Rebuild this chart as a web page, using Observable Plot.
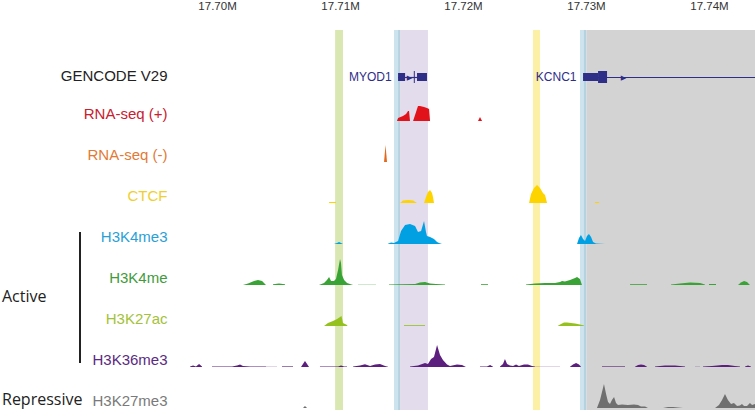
<!DOCTYPE html>
<html><head><meta charset="utf-8">
<script src="https://cdn.jsdelivr.net/npm/d3@7"></script>
<script src="https://cdn.jsdelivr.net/npm/@observablehq/plot@0.6"></script>
<style>
body{margin:0;background:#fff;}
#wrap{position:relative;width:755px;height:410px;font-family:"Liberation Sans",Arial,sans-serif;}
#wrap svg{position:absolute;left:0;top:0;}
.side{position:absolute;left:2px;font-family:"Open Sans",sans-serif;font-size:16px;color:#222;line-height:20px;white-space:nowrap;}
#bracket{position:absolute;left:79px;top:232px;width:1.5px;height:131px;background:#222;}
</style></head><body><div id="wrap"></div>
<script>
// ---- axis (positions in kb) ----
const tickValues = [17700, 17710, 17720, 17730, 17740];
const tickLabels = ["17.70M", "17.71M", "17.72M", "17.73M", "17.74M"];
const xDomain = [17697.64, 17743.74];

// ---- tracks ----
const tracks = ["GENCODE V29", "RNA-seq (+)", "RNA-seq (-)", "CTCF", "H3K4me3", "H3K4me", "H3K27ac", "H3K36me3", "H3K27me3"];

// ---- highlight bands ----
const bandStart = [17709.60, 17714.39, 17714.72, 17714.88, 17725.69, 17729.51, 17729.80, 17730.04];
const bandEnd   = [17710.24, 17714.72, 17714.88, 17717.15, 17726.26, 17729.80, 17730.04, 17743.74];
const bandKind  = ["green", "blue", "blueEdge", "purple", "yellow", "blue", "blueEdge", "gray"];

// ---- genes ----
const geneNames = ["MYOD1", "KCNC1"];
const geneStarts = [17714.72, 17729.76];
const geneEnds = [17717.07, 17743.74];
const geneArrows = [17715.60, 17733.01];
const exonGene = ["MYOD1", "MYOD1", "MYOD1", "KCNC1", "KCNC1"];
const exonStarts = [17714.72, 17716.00, 17716.26, 17729.76, 17730.98];
const exonEnds = [17715.29, 17716.08, 17717.07, 17730.98, 17731.71];
const exonKind = ["exon", "tall", "exon", "exon", "tall"];

// ---- signals: segments of [position kb, signal] ----
const rnaPlus = [
  [[17714.63,0],[17714.72,3],[17715.12,5],[17715.37,7],[17715.53,10],[17715.61,10],[17715.69,0]],
  [[17715.94,0],[17716.10,6],[17716.26,12],[17716.34,15],[17716.50,15],[17716.83,14],[17717.07,13],[17717.24,12],[17717.32,0]],
  [[17721.22,0],[17721.38,4],[17721.55,0]]
];
const rnaMinus = [
  [[17713.58,0],[17713.70,17],[17713.82,0]]
];
const ctcf = [
  [[17709.11,1],[17709.67,1]],
  [[17714.88,0],[17715.12,2.5],[17715.53,3],[17715.94,2.5],[17716.26,0]],
  [[17716.83,0],[17716.99,6],[17717.15,11],[17717.32,13],[17717.48,10],[17717.56,6],[17717.64,0]],
  [[17725.37,0],[17725.53,9],[17725.77,15],[17726.02,18],[17726.26,15],[17726.50,10],[17726.67,8],[17726.83,0]],
  [[17730.73,1],[17731.06,1]]
];
const h3k4me3 = [
  [[17709.51,0],[17709.76,1],[17709.92,2],[17710.08,1],[17710.24,0]],
  [[17713.90,0.3],[17714.15,1.5],[17714.39,1],[17714.55,2],[17714.72,3],[17714.96,13],[17715.29,19],[17715.69,20],[17716.10,18],[17716.34,12],[17716.59,13],[17716.83,23],[17716.99,12],[17717.07,8],[17717.32,7],[17717.64,5],[17717.89,2],[17718.05,1],[17718.29,0]],
  [[17729.27,0],[17729.43,6],[17729.59,9],[17729.76,5],[17729.92,3],[17730.08,8],[17730.24,10],[17730.41,7],[17730.57,2],[17730.81,0.5],[17731.55,0]]
];
const h3k4me = [
  [[17702.11,0],[17702.52,1.5],[17703.01,4],[17703.33,5],[17703.66,4],[17703.98,0]],
  [[17704.55,0.8],[17705.04,1.5],[17705.53,0.8]],
  [[17708.29,0],[17708.70,2],[17708.94,5],[17709.11,8],[17709.27,4],[17709.51,4],[17709.67,6],[17709.84,15],[17710.00,26],[17710.08,22],[17710.16,10],[17710.33,5],[17710.57,2],[17710.81,1],[17711.06,0]],
  [[17713.98,0.6],[17714.88,0.8],[17716.10,1],[17716.50,2.5],[17716.91,3],[17717.32,1.5],[17717.80,1],[17718.54,0.6]],
  [[17721.46,0.8],[17722.03,0.8]],
  [[17725.12,0.5],[17725.85,1.5],[17726.67,2],[17727.48,2],[17727.89,3],[17728.05,4],[17728.29,3.5],[17728.70,5],[17729.11,7],[17729.27,8],[17729.51,6],[17729.67,0]],
  [[17733.58,0.8],[17734.96,0.8]],
  [[17736.91,0.5],[17737.64,1.5],[17738.46,2.5],[17739.27,2],[17739.67,0.5]],
  [[17740.00,1],[17740.57,1]],
  [[17742.36,0],[17742.60,2.5],[17742.85,4],[17743.09,3],[17743.33,0]]
];
const h3k4meFaint = [
  [[17711.46,0.8],[17712.93,0.8]]
];
const h3k27ac = [
  [[17708.70,0],[17709.02,3],[17709.43,5],[17709.76,7],[17710.00,9],[17710.12,10],[17710.24,3],[17710.57,1],[17710.60,0]],
  [[17715.20,0.8],[17716.91,0.8]],
  [[17727.72,0.3],[17727.97,2],[17728.21,3.5],[17728.46,3.5],[17728.78,3],[17729.11,2.5],[17729.51,1.5],[17729.84,0.5]]
];
const h3k36me3 = [
  [[17697.81,0.5],[17698.05,1.5],[17698.29,0.5],[17698.54,3],[17698.78,0.5]],
  [[17699.59,0.6],[17701.22,0.6],[17701.63,1.5],[17701.87,2.5],[17702.11,1],[17702.68,0.6],[17703.98,0.6]],
  [[17705.28,0.6],[17706.18,0.6]],
  [[17706.83,0],[17706.99,3],[17707.15,6],[17707.32,3],[17707.48,0]],
  [[17708.37,0.6],[17709.84,0.6],[17710.08,1.5],[17710.33,0.6],[17710.57,0.6]],
  [[17711.06,0.5],[17711.63,1.5],[17712.03,2.7],[17712.44,1],[17712.85,2.5],[17713.25,3],[17713.66,1],[17713.90,0.3]],
  [[17715.69,0.5],[17716.34,1.5],[17716.91,4],[17717.15,3],[17717.40,8],[17717.64,10],[17717.89,22],[17718.13,12],[17718.37,7],[17718.70,2.5],[17718.94,1],[17719.51,2.5],[17719.92,2],[17720.24,0]],
  [[17721.38,0.5],[17721.95,0.6],[17722.20,2],[17722.44,0.3]],
  [[17723.01,0.5],[17723.25,3],[17723.41,8],[17723.58,3],[17723.82,1.5],[17724.07,1],[17724.31,2.5],[17724.55,1],[17724.96,2.5],[17725.28,2.5],[17725.61,1],[17725.85,0.6]],
  [[17728.70,0.3],[17728.94,2.5],[17729.19,4],[17729.43,2.5],[17729.59,0.3]],
  [[17731.30,0.6],[17733.17,0.6]],
  [[17733.98,0.3],[17734.23,2],[17734.47,2.5],[17734.72,2],[17734.96,0.3]],
  [[17735.61,0.5],[17736.42,1.5],[17737.24,1.5],[17738.05,0.5]],
  [[17739.51,0.5],[17740.24,1],[17741.06,2],[17741.54,2],[17742.11,1],[17742.52,0.5]],
  [[17742.93,0.5],[17743.17,1.5],[17743.41,0.5]]
];
const h3k36me3Faint = [
  [[17703.98,0.6],[17704.88,0.6]],
  [[17725.85,0.6],[17727.89,0.6]],
  [[17738.86,0.6],[17739.27,0.6]]
];
const h3k27me3 = [
  [[17706.99,0],[17707.15,2],[17707.32,0]],
  [[17730.89,0],[17731.14,8],[17731.30,16],[17731.46,24],[17731.63,14],[17731.79,6],[17731.95,4],[17732.11,8],[17732.28,11],[17732.44,5],[17732.60,3],[17732.93,3.5],[17733.41,3],[17733.90,3.5],[17734.23,3],[17734.47,1.5],[17734.80,1.5],[17735.04,0]],
  [[17736.26,0],[17736.67,1],[17737.07,1],[17737.48,0.5],[17737.89,0]],
  [[17740.49,0],[17740.81,3],[17741.06,8],[17741.30,14],[17741.54,8],[17741.79,4],[17742.03,5],[17742.28,2],[17742.52,2.5],[17742.68,4],[17742.85,2],[17743.09,2],[17743.33,5],[17743.50,3],[17743.74,4]]
];

// ---- styles ----
const labelColor = {
  "GENCODE V29": "#222222", "RNA-seq (+)": "#c9202f", "RNA-seq (-)": "#e27a36", "CTCF": "#f0cf2e",
  "H3K4me3": "#2a9fd6", "H3K4me": "#3f9b3d", "H3K27ac": "#a3c23a", "H3K36me3": "#5b2a82", "H3K27me3": "#7a7a7a"
};
const signalColor = {
  "RNA-seq (+)": "#e2121b", "RNA-seq (-)": "#e2681d", "CTCF": "#fdd400", "H3K4me3": "#00a0e3",
  "H3K4me": "#3aa335", "H3K27ac": "#95c11f", "H3K36me3": "#5c1f7e", "H3K27me3": "#6f6f6f"
};
const bandColor = {green: "#d9e7b2", blue: "#cde4ee", blueEdge: "#b5d2df", purple: "#e2dcec", yellow: "#fcf0a6", gray: "#d3d3d3"};
const navy = "#2e2d88";
const exonHalf = {exon: 4, tall: 6};
const geneY = 3;

// ---- tables ----
const toRows = (list) => list.flatMap(([track, segs]) =>
  segs.flatMap((s, i) => s.map(([pos, v]) => ({track, seg: track + "-" + i, pos, v}))));
const signalRows = toRows([
  ["RNA-seq (+)", rnaPlus], ["RNA-seq (-)", rnaMinus], ["CTCF", ctcf], ["H3K4me3", h3k4me3],
  ["H3K4me", h3k4me], ["H3K27ac", h3k27ac], ["H3K36me3", h3k36me3], ["H3K27me3", h3k27me3]
]);
const faintRows = toRows([["H3K4me", h3k4meFaint], ["H3K36me3", h3k36me3Faint]]);
const bands = bandStart.map((s, i) => ({start: s, end: bandEnd[i], kind: bandKind[i]}));
const genes = geneNames.map((name, i) => ({track: "GENCODE V29", name, start: geneStarts[i], end: geneEnds[i], arrow: geneArrows[i]}));
const exons = exonStarts.map((s, i) => ({track: "GENCODE V29", gene: exonGene[i], start: s, end: exonEnds[i], kind: exonKind[i]}));
const labels = tracks.map(t => ({track: t}));

const W = 755, H = 410;

// background bands + top axis
const back = Plot.plot({
  width: W, height: H, marginTop: 30, marginBottom: 0, marginLeft: 188, marginRight: 0,
  style: {fontFamily: "'Liberation Sans', Arial, sans-serif", fontSize: "11.5px", color: "#333", background: "white"},
  x: {domain: xDomain, axis: "top", ticks: tickValues, tickSize: 0, tickPadding: 21, label: null,
      tickFormat: d => tickLabels[tickValues.indexOf(d)]},
  color: {domain: Object.keys(bandColor), range: Object.values(bandColor)},
  marks: [
    Plot.rect(bands, {x1: "start", x2: "end", fill: "kind"})
  ]
});

// tracks
const main = Plot.plot({
  width: W, height: H, marginTop: 38, marginBottom: 2, marginLeft: 188, marginRight: 0,
  style: {fontFamily: "'Liberation Sans', Arial, sans-serif", background: "transparent", overflow: "visible"},
  x: {domain: xDomain, axis: null},
  y: {domain: [0, 41], axis: null},
  fy: {domain: tracks, padding: 0, axis: null},
  marks: [
    Plot.areaY(faintRows, {x: "pos", y1: 0, y2: "v", z: "seg", fy: "track", fill: d => signalColor[d.track], fillOpacity: 0.3}),
    Plot.areaY(signalRows, {x: "pos", y1: 0, y2: "v", z: "seg", fy: "track", fill: d => signalColor[d.track]}),
    Plot.ruleY(genes, {y: geneY, x1: "start", x2: "end", fy: "track", stroke: navy, strokeWidth: 1.2}),
    Plot.rect(exons, {x1: "start", x2: "end", y1: d => geneY - exonHalf[d.kind], y2: d => geneY + exonHalf[d.kind], fy: "track", fill: navy}),
    Plot.text(genes, {x: "arrow", y: geneY, fy: "track", text: () => "\u25B6", fontSize: 7, fill: navy, fontFamily: "DejaVu Sans"}),
    Plot.text(genes, {x: "start", y: geneY, fy: "track", text: "name", dx: -7, textAnchor: "end", fontSize: 12, fill: navy}),
    Plot.text(labels, {fy: "track", y: d => d.track === "GENCODE V29" ? 4 : 7, frameAnchor: "left", dx: -21, text: "track",
      textAnchor: "end", fontSize: 15, fill: d => labelColor[d.track]})
  ]
});

const wrap = document.getElementById("wrap");
wrap.appendChild(back);
wrap.appendChild(main);
const act = document.createElement("div"); act.className = "side"; act.style.top = "286px"; act.textContent = "Active";
const rep = document.createElement("div"); rep.className = "side"; rep.style.top = "389px"; rep.textContent = "Repressive";
const br = document.createElement("div"); br.id = "bracket";
wrap.appendChild(act); wrap.appendChild(rep); wrap.appendChild(br);
</script>
</body></html>
